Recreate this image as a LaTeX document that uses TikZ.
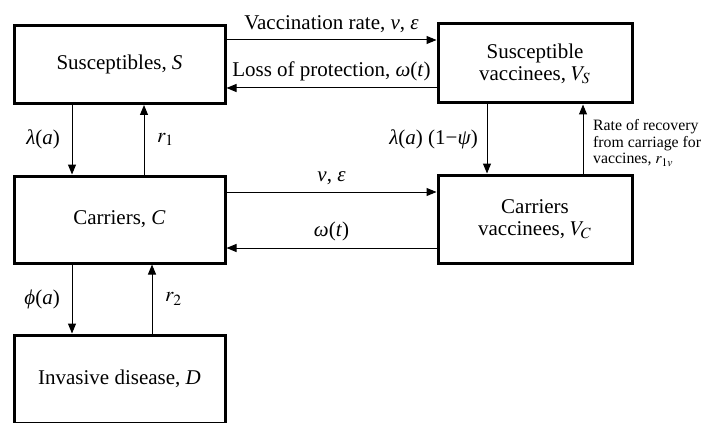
\documentclass[tikz,border=0pt]{standalone}
\usepackage{amsmath}
\usepackage{xcolor}
\usepackage{mathptmx}
\usepackage[no-math]{fontspec}
\setmainfont{Liberation Serif}
\usetikzlibrary{arrows.meta}

\tikzset{
  box/.style={draw, line width=1.5pt, align=center, font=\fontsize{10.5}{11}\selectfont},
  flow/.style={line width=0.5pt, -{Triangle[length=5pt,width=4pt]}},
  rate/.style={font=\fontsize{10.5}{11}\selectfont},
  note/.style={font=\fontsize{7.9}{8.3}\selectfont, align=left}
}

\begin{document}
\begin{tikzpicture}[x=0.5pt,y=-0.5pt]
    \useasboundingbox (0,0) rectangle (704,422);

    % Draw the compartments
    \node[box, minimum width=105.5pt, minimum height=39pt] (s) at (119.5,64.5) {Susceptibles, \textit{S}};
    \node[box, minimum width=97pt, minimum height=39.5pt] (vs) at (535,63.5) {Susceptible\\vaccinees, $V_S$};
    \node[box, minimum width=105.5pt, minimum height=43.5pt] (c) at (119.5,219.5) {Carriers, \textit{C}};
    \node[box, minimum width=97pt, minimum height=44pt] (vc) at (535,219) {Carriers\\vaccinees, $V_C$};
    \node[box, minimum width=105.5pt, minimum height=44pt] (d) at (119.5,379) {Invasive disease, \textit{D}};

    % Draw the horizontal flows
    \draw[flow] (s.east |- 0,40) -- (vs.west |- 0,40) node[midway, above, rate] (vacc) {Vaccination rate, \textit{v}, \textit{ε}};
    \draw[flow] (vs.west |- 0,88) -- (s.east |- 0,88) node[midway, above, rate] (loss) {Loss of protection, \textit{ω}(\textit{t})};
    \draw[flow] (c.east |- 0,192) -- (vc.west |- 0,192) node[midway, above, rate] (cvacc) {\textit{v}, \textit{ε}};
    \draw[flow] (vc.west |- 0,248) -- (c.east |- 0,248) node[midway, above, rate] (closs) {\textit{ω}(\textit{t})};

    % Draw the vertical flows
    \draw[flow] (s.south -| 72,0) -- (c.north -| 72,0) node[midway, left=2.5pt, rate] (inf) {\textit{λ}(\textit{a})};
    \draw[flow] (c.north -| 144,0) -- (s.south -| 144,0) node[midway, right=3pt, rate] (rec) {$r_1$};
    \draw[flow] (vs.south -| 487,0) -- (vc.north -| 487,0) node[midway, left=1pt, rate] (vinf) {\textit{λ}(\textit{a}) (1−\textit{ψ})};
    \draw[flow] (vc.north -| 583,0) -- (vs.south -| 583,0) node[midway, right=1.5pt, yshift=-2pt, note] (vrec) {Rate of recovery\\from carriage for\\vaccines, $r_{1v}$};
    \draw[flow] (c.south -| 72,0) -- (d.north -| 72,0) node[midway, left=2.5pt, rate] (inv) {\textit{ϕ}(\textit{a})};
    \draw[flow] (d.north -| 152,0) -- (c.south -| 152,0) node[midway, right=3pt, rate] (drec) {$r_2$};
\end{tikzpicture}
\end{document}
